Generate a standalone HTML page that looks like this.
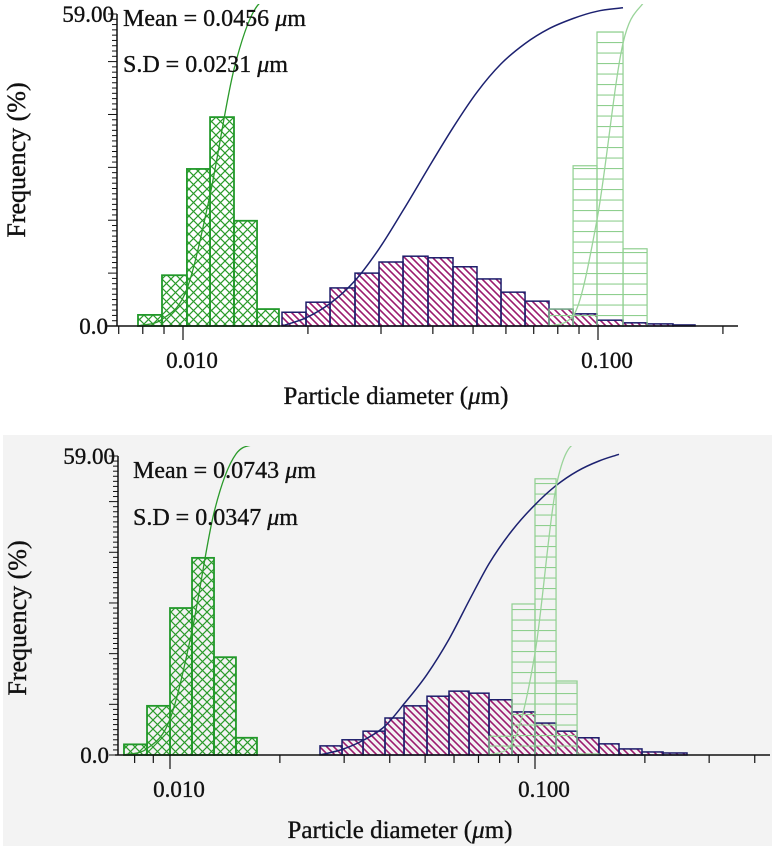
<!DOCTYPE html>
<html><head><meta charset="utf-8">
<style>
html,body{margin:0;padding:0;background:#fff;}
svg{display:block;}
text{font-family:"Liberation Serif",serif;fill:#111;stroke:#111;stroke-width:0.35;}
</style></head>
<body>
<svg id="chart" width="774" height="848" viewBox="0 0 774 848" xmlns="http://www.w3.org/2000/svg">
<defs>
<pattern id="pCross" patternUnits="userSpaceOnUse" width="9" height="9">
<path d="M0,0 L9,9 M9,0 L0,9" stroke="#2a9a2a" stroke-width="1.2" fill="none"/>
</pattern>
<pattern id="pDiag" patternUnits="userSpaceOnUse" width="7" height="7">
<path d="M-1,-1 L8,8 M-1,6 L1,8 M6,-1 L8,1" stroke="#9b1b6e" stroke-width="1.6" fill="none"/>
</pattern>
<pattern id="pHorz" patternUnits="userSpaceOnUse" width="10" height="10.5">
<path d="M0,0.5 L10,0.5" stroke="#8fcf8f" stroke-width="1.2" fill="none"/>
</pattern>
</defs>
<rect x="3" y="435" width="769" height="411" fill="#f3f3f3"/>
<g id="top"></g>
<g id="bottom"></g>
</svg>
<script>
// ---- Top chart data ----
const topGreenEdges = [0.00779,0.00890,0.01022,0.01162,0.01327,0.01508,0.01703];
const topGreenFreq = [2.1,9.6,29.7,39.5,19.9,3.2];
const topPurpleEdges = [0.01732,0.01979,0.02261,0.02597,0.02967,0.03390,0.03894,0.04473,0.05110,0.05839,0.06671,0.07620,0.08708,0.09945,0.1149,0.1313,0.1516,0.1713];
const topPurpleFreq = [2.6,4.5,7.2,10.0,12.1,13.2,12.9,11.2,8.9,6.4,4.7,3.2,2.3,1.1,0.6,0.4,0.2];
const topLightEdges = [0.07620,0.08708,0.09945,0.1149,0.1313];
const topLightFreq = [3.2,30.3,55.6,14.6];
const topStats = ["Mean = 0.0456 ", "S.D = 0.0231 "];
// ---- Bottom chart data ----
const botGreenEdges = [0.00748,0.00865,0.01,0.01149,0.01320,0.01516,0.01731];
const botGreenFreq = [2.1,9.7,29.0,38.9,19.3,3.4];
const botPurpleEdges = [0.02576,0.02960,0.03380,0.03882,0.04377,0.05060,0.05813,0.06596,0.07482,0.08650,0.1,0.1142,0.1304,0.1497,0.1699,0.1964,0.2243,0.2609];
const botPurpleFreq = [1.8,3.0,4.7,7.3,9.7,11.6,12.6,12.2,10.9,8.5,6.3,4.7,3.4,2.2,1.2,0.6,0.4];
const botLightEdges = [0.07482,0.0865,0.1,0.1142,0.1304,0.1497];
const botLightFreq = [3.7,29.8,54.5,14.6,0.2];
const botStats = ["Mean = 0.0743 ", "S.D = 0.0347 "];
// ---- Axis ----
const yMaxLabel = "59.00";
const yMinLabel = "0.0";
const yMax = 59;
const xMajorTicks = [0.01, 0.1];
const xMajorLabels = ["0.010", "0.100"];
const xMinorTicks = [0.007,0.008,0.009,0.02,0.03,0.04,0.05,0.06,0.07,0.08,0.09,0.2,0.3,0.4,0.5];
const cumScale = 0.6; // cumulative % -> frequency units

const NS = "http://www.w3.org/2000/svg";
function el(tag, attrs, parent){
  const e = document.createElementNS(NS, tag);
  for (const k in attrs) e.setAttribute(k, attrs[k]);
  parent.appendChild(e);
  return e;
}
function monoPath(pts){
  const n = pts.length;
  if (n < 2) return "";
  const dx=[],dy=[],m=[];
  for(let i=0;i<n-1;i++){dx.push(pts[i+1][0]-pts[i][0]);dy.push(pts[i+1][1]-pts[i][1]);m.push(dy[i]/dx[i]);}
  const t=[m[0]];
  for(let i=1;i<n-1;i++){ t.push(m[i-1]*m[i]<=0?0:(m[i-1]+m[i])/2); }
  t.push(m[n-2]);
  for(let i=0;i<n-1;i++){
    if(m[i]===0){t[i]=0;t[i+1]=0;continue;}
    const a=t[i]/m[i], b=t[i+1]/m[i], s=a*a+b*b;
    if(s>9){const k=3/Math.sqrt(s);t[i]=k*a*m[i];t[i+1]=k*b*m[i];}
  }
  let d="M"+pts[0][0].toFixed(1)+","+pts[0][1].toFixed(1);
  for(let i=0;i<n-1;i++){
    const h=dx[i]/3;
    d+=" C"+(pts[i][0]+h).toFixed(1)+","+(pts[i][1]+t[i]*h).toFixed(1)+" "+(pts[i+1][0]-h).toFixed(1)+","+(pts[i+1][1]-t[i+1]*h).toFixed(1)+" "+pts[i+1][0].toFixed(1)+","+pts[i+1][1].toFixed(1);
  }
  return d;
}

function drawChart(g, cfg, greenE, greenF, purpE, purpF, lightE, lightF, stats){
  const X = d => cfg.x0 + cfg.dec*Math.log10(d/0.01);
  const Y = v => cfg.yb - (cfg.yb-cfg.yt)*v/yMax;
  const clipId = "clip"+cfg.id;
  const cp = el("clipPath",{id:clipId},g);
  el("rect",{x:cfg.axL,y:cfg.yt-10,width:cfg.axR-cfg.axL,height:cfg.yb-cfg.yt+10},cp);

  function bars(edges, freq, fill, stroke, sw, name){
    const grp = el("g",{},g);
    
    
    for(let i=0;i<freq.length;i++){
      const x1=X(edges[i]), x2=X(edges[i+1]), y=Y(freq[i]);
      const r = el("rect",{x:x1,y:y,width:x2-x1,height:cfg.yb-y,fill:fill,stroke:stroke,"stroke-width":sw},grp);
      
      
    }
  }
  function cum(edges, freq, color, sw, name, stopAt){
    const pts=[[X(edges[0]),cfg.yb]]; let c=0;
    for(let i=0;i<freq.length;i++){ c+=freq[i]; pts.push([X(edges[i+1]),Y(c*cumScale)]); if(stopAt && c>=stopAt) break; }
    const p = el("path",{d:monoPath(pts),fill:"none",stroke:color,"stroke-width":sw,"clip-path":"url(#"+clipId+")"},g);
    
    
  }
  bars(purpE, purpF, "url(#pDiag)", "#1c1c6a", 1.5, "purple");
  bars(greenE, greenF, "url(#pCross)", "#22992a", 1.8, "green");
  bars(lightE, lightF, "url(#pHorz)", "#8fcf8f", 1.2, "light-green");
  cum(purpE, purpF, "#1c2170", 1.5, "purple", cfg.stop);
  cum(greenE, greenF, "#2a9a2a", 1.3, "green");
  cum(lightE, lightF, "#9ad49a", 1.3, "light-green");

  // axes
  const ax = el("g",{stroke:"#111","stroke-width":1.5},g);
  
  
  el("line",{x1:cfg.axL,y1:cfg.yb,x2:cfg.axR,y2:cfg.yb},ax);
  el("line",{x1:cfg.ya,y1:cfg.yt,x2:cfg.ya,y2:cfg.yb},ax);
  for(let v=0; v<=yMax; v++){
    const len = (v%10===0)?9:5;
    el("line",{x1:cfg.ya-len,y1:Y(v),x2:cfg.ya,y2:Y(v),"stroke-width":1},ax);
  }
  el("line",{x1:cfg.ya-9,y1:cfg.yt,x2:cfg.ya,y2:cfg.yt,"stroke-width":1},ax);
  xMinorTicks.forEach(d=>{ const x=X(d); if(x>cfg.axL+2 && x<cfg.axR+1) el("line",{x1:x,y1:cfg.yb,x2:x,y2:cfg.yb+8,"stroke-width":1.2},ax); });
  xMajorTicks.forEach((d,i)=>{
    const x=X(d);
    el("line",{x1:x,y1:cfg.yb,x2:x,y2:cfg.yb+14,"stroke-width":1.2},ax);
    const t=el("text",{x:x+9,y:cfg.yb+42,"font-size":23,"text-anchor":"middle"},g);
    t.textContent=xMajorLabels[i];
    
    
  });
  const l1=el("text",{x:cfg.ya-3,y:cfg.yt+8,"font-size":23,"text-anchor":"end"},g); l1.textContent=yMaxLabel;
  
  
  const l0=el("text",{x:cfg.ya-9,y:cfg.yb+8,"font-size":23,"text-anchor":"end"},g); l0.textContent=yMinLabel;
  
  
  const yt=el("text",{transform:"translate("+cfg.ytx+","+cfg.yty+") rotate(-90)","font-size":26,"text-anchor":"middle"},g);
  yt.textContent="Frequency (%)";
  
  
  const xt=el("text",{x:cfg.xtx,y:cfg.xty,"font-size":25,"text-anchor":"middle"},g);
  xt.innerHTML='Particle diameter (<tspan font-style="italic">μ</tspan>m)';
  
  
  stats.forEach((s,i)=>{
    const t=el("text",{x:cfg.sx,y:cfg.sy+i*cfg.sdy,"font-size":24},g);
    t.innerHTML=s+'<tspan font-style="italic">μ</tspan>m';
    
    
  });
}

drawChart(document.getElementById("top"),
  {id:"t",x0:183,dec:415,yb:326,yt:14,ya:117,axL:107,axR:738,ytx:25,yty:160,xtx:396,xty:404,sx:123,sy:26,sdy:46,stop:100.2},
  topGreenEdges, topGreenFreq, topPurpleEdges, topPurpleFreq, topLightEdges, topLightFreq, topStats);
drawChart(document.getElementById("bottom"),
  {id:"b",x0:170,dec:365,yb:755,yt:456,ya:118,axL:115,axR:770,ytx:26,yty:618,xtx:400,xty:838,sx:133,sy:478,sdy:47,stop:98.5},
  botGreenEdges, botGreenFreq, botPurpleEdges, botPurpleFreq, botLightEdges, botLightFreq, botStats);
</script>
</body></html>
